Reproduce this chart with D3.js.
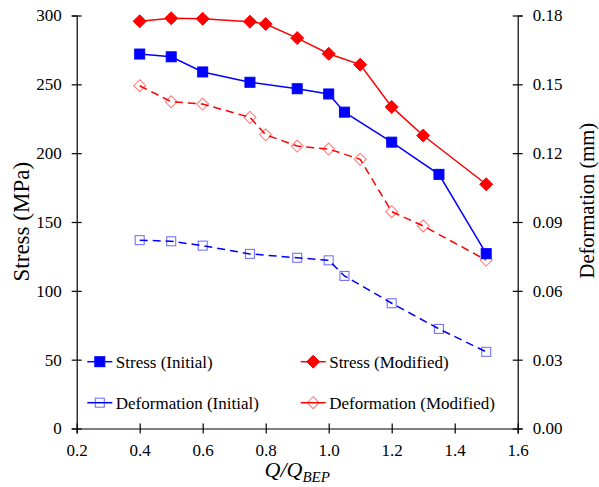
<!DOCTYPE html>
<html>
<head>
<meta charset="utf-8">
<script src="https://cdn.jsdelivr.net/npm/d3@7"></script>
<style>
  html, body { margin: 0; padding: 0; background: #fff; }
  svg { display: block; }
</style>
</head>
<body>
<svg id="chart" width="599" height="487"></svg>
<script>
// ---- Data ----
const stressInitX = [0.4, 0.5, 0.6, 0.75, 0.9, 1.0, 1.05, 1.2, 1.35, 1.5];
const stressInitY = [272, 270, 259, 251.5, 246.8, 243, 229.8, 208, 184.6, 127];

const stressModX = [0.4, 0.5, 0.6, 0.75, 0.8, 0.9, 1.0, 1.1, 1.2, 1.3, 1.5];
const stressModY = [295.8, 298, 297.6, 295.5, 293.8, 283.6, 272.2, 264.3, 233.6, 212.8, 177.4];

const defInitX = [0.4, 0.5, 0.6, 0.75, 0.9, 1.0, 1.05, 1.2, 1.35, 1.5];
const defInitY = [0.0821, 0.0816, 0.0797, 0.0761, 0.0744, 0.0733, 0.0665, 0.0546, 0.0434, 0.0334];

const defModX = [0.4, 0.5, 0.6, 0.75, 0.8, 0.9, 1.0, 1.1, 1.2, 1.3, 1.5];
const defModY = [0.1494, 0.1424, 0.1414, 0.1356, 0.128, 0.1231, 0.1218, 0.1173, 0.0945, 0.0883, 0.0734];

const xTicks = [0.2, 0.4, 0.6, 0.8, 1.0, 1.2, 1.4, 1.6];
const yLeftTicks = [0, 50, 100, 150, 200, 250, 300];
const yRightTicks = [0, 0.03, 0.06, 0.09, 0.12, 0.15, 0.18];

const legendLabels = ["Stress (Initial)", "Stress (Modified)", "Deformation (Initial)", "Deformation (Modified)"];

// ---- Layout ----
const FONT = "'Liberation Serif', Tinos, 'Times New Roman', Times, 'DejaVu Serif', serif";
const svg = d3.select("#chart").attr("font-family", FONT);
const L = 76.7, R = 517.7, T = 15.5, B = 428.5;
const x = d3.scaleLinear().domain([0.2, 1.6]).range([L, R]);
const yL = d3.scaleLinear().domain([0, 300]).range([B, T]);
const yR = d3.scaleLinear().domain([0, 0.18]).range([B, T]);

const BLUE = "#0000ff", RED = "#ff0000";

function styleAxis(g, orient) {
  g.attr("font-family", FONT).attr("font-size", 17);
  g.selectAll("path.domain").attr("stroke", "#000").attr("stroke-width", 1.2);
  g.selectAll(".tick line").attr("stroke", "#000").attr("stroke-width", 1.2);
  if (orient === "left" || orient === "right") {
    g.selectAll(".tick line").attr("x1", -5).attr("x2", 5);
  } else {
    g.selectAll(".tick line").attr("y1", -5).attr("y2", 5);
  }
  g.selectAll(".tick text").attr("fill", "#000");
}

const gx = svg.append("g").attr("transform", `translate(0,${B})`)
  .call(d3.axisBottom(x).tickValues(xTicks).tickFormat(d3.format(".1f")).tickSizeOuter(0).tickSize(5).tickPadding(10));
styleAxis(gx, "bottom");

const gl = svg.append("g").attr("transform", `translate(${L},0)`)
  .call(d3.axisLeft(yL).tickValues(yLeftTicks).tickFormat(d3.format("d")).tickSizeOuter(0).tickSize(5).tickPadding(10));
styleAxis(gl, "left");

const gr = svg.append("g").attr("transform", `translate(${R},0)`)
  .call(d3.axisRight(yR).tickValues(yRightTicks).tickFormat(d3.format(".2f")).tickSizeOuter(0).tickSize(5).tickPadding(10));
styleAxis(gr, "right");

// Axis titles
svg.append("text")
  .attr("transform", `translate(28.5,221.7) rotate(-90)`)
  .attr("text-anchor", "middle")
  .attr("font-size", 23)
  .text("Stress (MPa)");

svg.append("text")
  .attr("transform", `translate(594,200.7) rotate(-90)`)
  .attr("text-anchor", "middle")
  .attr("font-size", 20.5)
  .text("Deformation (mm)");

const xt = svg.append("text")
  .attr("x", (L + R) / 2).attr("y", 477)
  .attr("text-anchor", "middle")
  .attr("font-size", 22).attr("font-style", "italic");
xt.append("tspan").text("Q/Q");
xt.append("tspan").attr("dy", 5).attr("font-size", 15).text("BEP");

// Series
const lineGen = d3.line();
function drawSeries(xs, ys, yScale, color, dashed, marker) {
  const pts = xs.map((v, i) => [x(v), yScale(ys[i])]);
  svg.append("path")
    .attr("d", lineGen(pts))
    .attr("fill", "none")
    .attr("stroke", color)
    .attr("stroke-width", 1.5)
    .attr("stroke-dasharray", dashed ? "8,5" : null);
  pts.forEach(p => drawMarker(p[0], p[1], color, marker));
}

function drawMarker(cx, cy, color, marker) {
  if (marker === "squareFill") {
    svg.append("rect").attr("x", cx - 5).attr("y", cy - 5).attr("width", 10).attr("height", 10)
      .attr("fill", color).attr("stroke", color).attr("stroke-width", 1);
  } else if (marker === "diamondFill") {
    svg.append("path").attr("d", `M${cx},${cy - 6.5}L${cx + 6.5},${cy}L${cx},${cy + 6.5}L${cx - 6.5},${cy}Z`)
      .attr("fill", color).attr("stroke", color).attr("stroke-width", 1);
  } else if (marker === "squareOpen") {
    svg.append("rect").attr("x", cx - 4.5).attr("y", cy - 4.5).attr("width", 9).attr("height", 9)
      .attr("fill", "none").attr("stroke", color).attr("stroke-opacity", 0.55).attr("stroke-width", 1.1);
  } else if (marker === "diamondOpen") {
    svg.append("path").attr("d", `M${cx},${cy - 6}L${cx + 6},${cy}L${cx},${cy + 6}L${cx - 6},${cy}Z`)
      .attr("fill", "none").attr("stroke", color).attr("stroke-opacity", 0.5).attr("stroke-width", 1.1);
  }
}

drawSeries(defInitX, defInitY, yR, BLUE, true, "squareOpen");
drawSeries(defModX, defModY, yR, RED, true, "diamondOpen");
drawSeries(stressInitX, stressInitY, yL, BLUE, false, "squareFill");
drawSeries(stressModX, stressModY, yL, RED, false, "diamondFill");

// Legend
const legendItems = [
  { label: legendLabels[0], color: BLUE, marker: "squareFill", lx: 87.3, ly: 361.7 },
  { label: legendLabels[1], color: RED, marker: "diamondFill", lx: 300.7, ly: 361.7 },
  { label: legendLabels[2], color: BLUE, marker: "squareOpen", lx: 87.3, ly: 402.7 },
  { label: legendLabels[3], color: RED, marker: "diamondOpen", lx: 300.7, ly: 402.7 }
];
legendItems.forEach(it => {
  svg.append("line").attr("x1", it.lx).attr("x2", it.lx + 25)
    .attr("y1", it.ly).attr("y2", it.ly)
    .attr("stroke", it.color).attr("stroke-width", 1.5);
  drawMarker(it.lx + 12.5, it.ly, it.color, it.marker);
  svg.append("text").attr("x", it.lx + 28.5).attr("y", it.ly + 6)
    .attr("font-size", 17).text(it.label);
});
</script>
</body>
</html>
